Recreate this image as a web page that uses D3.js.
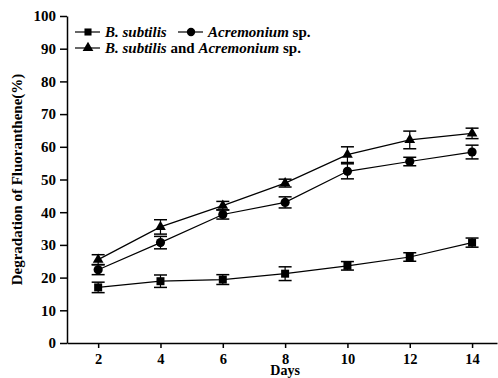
<!DOCTYPE html>
<html>
<head>
<meta charset="utf-8">
<script src="https://cdn.jsdelivr.net/npm/d3@7"></script>
<style>
  body { margin: 0; background: #fff; }
  svg text { font-family: "Liberation Serif", "Times New Roman", serif; font-weight: bold; fill: #000; }
</style>
</head>
<body>
<div id="chart"></div>
<script>
const days = [2, 4, 6, 8, 10, 12, 14];
const bsValues = [17.0, 18.9, 19.4, 21.2, 23.6, 26.3, 30.7];
const bsErrors = [1.6, 1.9, 1.5, 2.1, 1.3, 1.3, 1.4];
const acValues = [22.4, 30.7, 39.3, 43.0, 52.5, 55.5, 58.4];
const acErrors = [1.5, 1.9, 1.4, 1.7, 2.3, 1.3, 2.1];
const mixValues = [25.5, 35.5, 42.0, 48.9, 57.6, 62.1, 64.1];
const mixErrors = [1.5, 2.2, 1.3, 1.2, 2.4, 2.7, 1.6];
const yTicks = [0, 10, 20, 30, 40, 50, 60, 70, 80, 90, 100];

const width = 498, height = 378;
const plotLeft = 67, plotRight = 497, plotTop = 16, plotBottom = 343;
const serif = '"Liberation Serif", "Times New Roman", serif';

const svg = d3.select("#chart").append("svg")
    .attr("width", width)
    .attr("height", height);

const x = d3.scaleLinear().domain([1, 14.8]).range([plotLeft, plotRight]);
const y = d3.scaleLinear().domain([0, 100]).range([plotBottom, plotTop]);

// axes
svg.append("g")
    .attr("transform", "translate(0," + plotBottom + ")")
    .call(d3.axisBottom(x).tickValues(days).tickSize(5).tickSizeOuter(0).tickPadding(6))
    .call(g => g.attr("font-family", serif).attr("font-size", 14.5));

svg.append("g")
    .attr("transform", "translate(" + plotLeft + ",0)")
    .call(d3.axisLeft(y).tickValues(yTicks).tickSize(7).tickSizeOuter(0).tickPadding(4))
    .call(g => g.attr("font-family", serif).attr("font-size", 15));

svg.selectAll(".domain, .tick line").attr("stroke", "#000").attr("stroke-width", 1.5);

svg.append("text")
    .attr("x", x(8))
    .attr("y", 375)
    .attr("text-anchor", "middle")
    .style("font-size", "14px")
    .text("Days");

svg.append("text")
    .attr("transform", "translate(22," + y(50) + ") rotate(-90)")
    .attr("text-anchor", "middle")
    .style("font-size", "15px")
    .text("Degradation of Fluoranthene(%)");

const series = [
    {name: "bs", values: bsValues, errors: bsErrors, marker: d3.symbolSquare, size: 64},
    {name: "ac", values: acValues, errors: acErrors, marker: d3.symbolCircle, size: 66},
    {name: "mix", values: mixValues, errors: mixErrors, marker: d3.symbolTriangle, size: 50}
];

const line = d3.line()
    .x(function(d) { return x(d[0]); })
    .y(function(d) { return y(d[1]); });

series.forEach(function(s) {
    const pts = days.map(function(d, i) { return [d, s.values[i], s.errors[i]]; });
    const g = svg.append("g");

    g.append("path")
        .datum(pts)
        .attr("fill", "none")
        .attr("stroke", "#000")
        .attr("stroke-width", 1.2)
        .attr("d", line);

    // error bars
    const eb = g.selectAll(".eb").data(pts).enter().append("g");
    eb.append("line")
        .attr("x1", d => x(d[0])).attr("x2", d => x(d[0]))
        .attr("y1", d => y(d[1] - d[2])).attr("y2", d => y(d[1] + d[2]))
        .attr("stroke", "#000").attr("stroke-width", 1.2);
    [1, -1].forEach(function(sign) {
        eb.append("line")
            .attr("x1", d => x(d[0]) - 6.5).attr("x2", d => x(d[0]) + 6.5)
            .attr("y1", d => y(d[1] + sign * d[2])).attr("y2", d => y(d[1] + sign * d[2]))
            .attr("stroke", "#000").attr("stroke-width", 1.5);
    });

    g.selectAll(".mk").data(pts).enter().append("path")
        .attr("transform", d => "translate(" + x(d[0]) + "," + y(d[1]) + ")")
        .attr("d", d3.symbol().type(s.marker).size(s.size))
        .attr("fill", "#000");
});

// legend
const legendItems = [
    {marker: d3.symbolSquare, size: 50, lx: 75, ly: 32, parts: [["B. subtilis", true]]},
    {marker: d3.symbolCircle, size: 55, lx: 178, ly: 32, parts: [["Acremonium", true], [" sp.", false]]},
    {marker: d3.symbolTriangle, size: 50, lx: 75, ly: 48, parts: [["B. subtilis", true], [" and ", false], ["Acremonium", true], [" sp.", false]]}
];

legendItems.forEach(function(item) {
    const g = svg.append("g").attr("transform", "translate(" + item.lx + "," + item.ly + ")");
    g.append("line").attr("x1", 0).attr("x2", 25).attr("y1", 0).attr("y2", 0)
        .attr("stroke", "#000").attr("stroke-width", 1.2);
    g.append("path").attr("transform", "translate(13,0)")
        .attr("d", d3.symbol().type(item.marker).size(item.size)).attr("fill", "#000");
    const t = g.append("text").attr("x", 30).attr("y", 5).style("font-size", "15px");
    item.parts.forEach(function(p) {
        t.append("tspan").style("font-style", p[1] ? "italic" : "normal").text(p[0]);
    });
});
</script>
</body>
</html>
